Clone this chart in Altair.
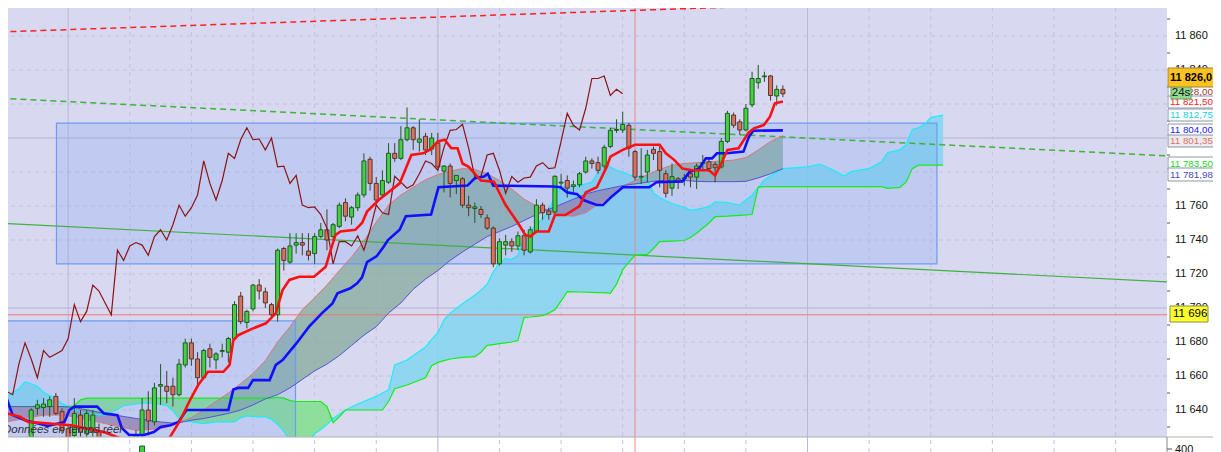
import altair as alt
import numpy as np
import pandas as pd

# ---------------- values ----------------
CANDLE_T = list(range(4, 127))
OPEN = [11624, 11641, 11641.5, 11642, 11648, 11639, 11629, 11625, 11637, 11626,
        11627, 11628, 11615, 11608, 11612, 11606, 11611, 11619, 11625, 11640,
        11633, 11654, 11654, 11654, 11649, 11666.5, 11679.5, 11670, 11659, 11676,
        11669.5, 11674.5, 11674, 11682, 11707, 11691.5, 11699.5, 11713.5, 11709.5, 11702,
        11696, 11735, 11727, 11737, 11738.5, 11733.5, 11732, 11742, 11746, 11742,
        11748, 11762, 11753.5, 11759, 11766.5, 11787.5, 11773.3, 11766.5, 11774, 11791,
        11788, 11799, 11806, 11797.5, 11801, 11793.5, 11797, 11780.5, 11783.5, 11775,
        11776, 11760.5, 11758.5, 11758, 11753, 11747, 11726, 11737, 11739, 11736.5,
        11742.5, 11733, 11745, 11760.5, 11757, 11756.5, 11773.5, 11775, 11771.5, 11772.5,
        11780, 11786.5, 11785.5, 11783.5, 11795, 11804.5, 11804.7, 11807.5, 11792, 11777,
        11780, 11793.3, 11792, 11779, 11770.5, 11776, 11776, 11779, 11777, 11785,
        11786, 11784.5, 11783, 11798, 11813.5, 11809.5, 11804.7, 11819.5, 11832.5, 11836,
        11836.5, 11824.7, 11828.6]
HIGH = [11641, 11646, 11647, 11648, 11650, 11641, 11631, 11647, 11640, 11640,
        11640, 11632, 11620, 11616, 11618, 11614, 11622, 11628, 11647, 11651,
        11656, 11667, 11663, 11659, 11670, 11682, 11682, 11674, 11676, 11679,
        11674, 11679, 11683, 11704, 11709.5, 11699, 11714, 11717, 11712, 11703,
        11735, 11736, 11744, 11744, 11744, 11744, 11744, 11750, 11758, 11750,
        11762, 11764.5, 11760, 11768, 11791, 11789, 11777, 11781, 11797, 11797,
        11807, 11818, 11807, 11811, 11803, 11803, 11803, 11784, 11785, 11778,
        11777, 11766, 11762, 11760, 11755, 11748, 11741, 11743, 11741, 11745,
        11746, 11748, 11764, 11762, 11759, 11778, 11779, 11778, 11775, 11780,
        11789, 11788, 11789, 11796, 11806, 11811, 11815.5, 11809, 11793, 11794,
        11793, 11795, 11795, 11781, 11785, 11777, 11779, 11781, 11785, 11790,
        11788, 11786, 11800, 11816, 11815, 11811, 11820, 11839, 11843, 11839,
        11837, 11831, 11831]
LOW = [11622, 11637, 11636, 11636, 11637, 11626, 11622, 11623, 11624, 11622,
       11622, 11612, 11604, 11601, 11603, 11600, 11607, 11615, 11623, 11625,
       11631, 11643, 11644, 11642, 11648, 11665, 11666, 11655, 11658, 11665,
       11664, 11671, 11668, 11681, 11690.5, 11688, 11698, 11705, 11700, 11695,
       11692, 11722, 11726, 11732, 11731, 11728, 11726, 11741, 11734, 11740,
       11747, 11751, 11749, 11757, 11765, 11769, 11760, 11765, 11773, 11786,
       11787, 11798, 11793, 11792, 11790, 11790, 11782, 11768, 11765, 11767,
       11759, 11754, 11750, 11753, 11746, 11724, 11725, 11731, 11733, 11734,
       11731, 11732, 11744, 11752, 11752, 11755, 11771, 11765, 11768, 11771,
       11779, 11782, 11779, 11782, 11794, 11803, 11803, 11789, 11775, 11773,
       11774, 11787, 11771, 11765, 11766, 11770, 11772, 11771, 11770, 11781,
       11780, 11774, 11782, 11797, 11806, 11802, 11804, 11818, 11829, 11833,
       11822, 11819, 11824]
CLOSE = [11640, 11643, 11643.5, 11646, 11638, 11628, 11624, 11638, 11627, 11638,
         11637, 11615, 11608, 11612, 11606, 11611, 11619, 11625, 11640, 11633.5,
         11653, 11655, 11651, 11649, 11667, 11679.5, 11670, 11659, 11675, 11671,
         11673, 11675, 11682, 11702, 11692, 11698, 11713.5, 11710, 11703, 11696,
         11734, 11728, 11736.5, 11738.5, 11737, 11731, 11742, 11746, 11740, 11749,
         11760.5, 11754, 11759, 11766.5, 11786.5, 11773.3, 11763.5, 11775, 11791, 11788,
         11799, 11806, 11799, 11799.4, 11793, 11800, 11783, 11783.5, 11773.3, 11778,
         11760.5, 11759, 11759.5, 11755, 11747, 11726, 11739, 11739, 11736.5, 11742.5,
         11734, 11746, 11760.5, 11756, 11755, 11777.5, 11774, 11770.5, 11772.5, 11779,
         11786.5, 11785, 11781, 11794.5, 11804.5, 11805, 11808, 11794, 11777, 11777.5,
         11790, 11791, 11781, 11767.5, 11777.3, 11774, 11776.5, 11777, 11783.5, 11785.5,
         11782, 11782.5, 11798, 11814.5, 11807.5, 11804.7, 11817.5, 11835, 11835, 11836.5,
         11825, 11828.6, 11826]
CHIKOU_SHIFT = 26

TENKAN_T = [0, 2.2, 3.5, 10.5, 12.6, 15.8, 18, 20, 26, 28.2, 29.8, 31.1, 32.7, 35.2, 36.2, 36.8,
            37.6, 40, 42.1, 43.7, 44.8, 45.9, 47.5, 49.9, 51.8, 52.6, 53.4, 54.2, 56.6, 57.7,
            58.5, 60.4, 63.8, 65.7, 67.6, 68.7, 70, 71.1, 72.2, 73.2, 74, 75, 77, 79.1, 79.9,
            81, 82, 83, 84.2, 85, 86, 88, 89, 90.7, 93, 94, 95.8, 97.4, 98, 100, 102, 106, 107,
            108.4, 109.7, 111.3, 114, 115, 116, 117, 118.8, 120.4, 121.3, 122.9, 123.9, 124.7, 126]
TENKAN_V = [11638, 11636, 11633, 11631, 11629.4, 11627, 11624, 11621, 11621, 11634, 11646, 11654.7,
            11662.5, 11662.5, 11666.5, 11681, 11684, 11688, 11691, 11697, 11710.6, 11716.5, 11718.4,
            11718.4, 11724.3, 11734, 11743, 11745, 11746, 11750, 11756.7, 11763.5, 11773.3, 11790,
            11791, 11793, 11798, 11799, 11794, 11794, 11785, 11783, 11775, 11774.3, 11768.4, 11760.6,
            11755.3, 11750, 11743, 11742, 11745, 11745, 11754.7, 11754.7, 11760, 11768, 11771, 11783,
            11789, 11793, 11796, 11796, 11791, 11787, 11782, 11781, 11781, 11778, 11785, 11793, 11794,
            11803, 11805.7, 11807.6, 11812.5, 11820.4, 11821.5]

KIJUN_T = [0, 1, 3, 6.7, 9.4, 10.2, 11, 14.7, 15.8, 18, 18.7, 19.9, 22.3, 23.9, 25, 26.6, 27.9,
           29.2, 36, 36.8, 37.6, 39.2, 40, 42.7, 43.7, 44.8, 47, 49.1, 51.2, 52.9, 53.7, 55.8, 56.9,
           57.7, 58.5, 60.1, 61.2, 61.9, 63.8, 64.8, 68.9, 70.1, 74.8, 76, 77.5, 78.1, 79, 88.8,
           89.9, 91, 92.6, 93.6, 95.8, 96.8, 98.2, 99.5, 100, 104.3, 105.5, 109.7, 110.8, 112.4,
           113.5, 114.5, 115.3, 116.9, 119.6, 120.5, 121.2, 126]
KIJUN_V = [11647, 11637, 11634, 11630.6, 11633, 11640, 11642, 11642, 11638, 11637, 11629.4, 11625.3,
           11625.3, 11627, 11630, 11631, 11633, 11640, 11640, 11652, 11653, 11653, 11657.6, 11657.6,
           11666.5, 11669.4, 11679, 11689, 11697, 11702.7, 11708.6, 11711.6, 11714.5, 11718, 11727,
           11730.6, 11736, 11740, 11746, 11754, 11755, 11771, 11772, 11776.3, 11777.3, 11779, 11772,
           11771.5, 11771, 11768, 11767, 11763.5, 11760.6, 11760.6, 11765.5, 11769.4, 11771, 11771,
           11774, 11774.5, 11780, 11782, 11788, 11788, 11791, 11791, 11792, 11800.8, 11804.3, 11804.5]

C1_T = [0, 3, 6, 9, 11, 16, 21, 25, 27, 28, 30, 32, 34, 36, 38, 40, 42, 44, 46, 48, 50, 52, 54,
        56, 58, 60, 62, 64, 66, 68, 70, 72, 74, 76, 78, 80, 82, 84, 86, 88, 90, 92, 94, 96, 98,
        100, 102, 104, 106, 108, 110, 112, 114, 116, 118, 120, 122, 124, 126]
C1_A = [11633, 11635, 11637, 11637, 11636, 11632, 11628, 11629, 11631, 11633,
        11635.5, 11640, 11645, 11650, 11655.5, 11661.5, 11669, 11680, 11689, 11699,
        11706, 11713.5, 11722, 11730, 11739.5, 11750.5, 11760.5, 11766.5, 11771, 11775.5,
        11778.5, 11780.5, 11782, 11781.5, 11779, 11775, 11770, 11764, 11760, 11756.5,
        11754.5, 11754, 11756, 11761, 11765, 11771, 11775, 11778.5, 11781.5, 11784,
        11785, 11785.5, 11786, 11786.5, 11787, 11788.5, 11793, 11798, 11801.35]
C1_B = [11642, 11642, 11642, 11642, 11641.5, 11638, 11635, 11633, 11632.3, 11632.5,
        11634, 11635, 11636.5, 11638, 11640, 11643, 11646.5, 11649, 11653, 11658,
        11663, 11667, 11672, 11678, 11684, 11689, 11697, 11703, 11711, 11717,
        11722, 11728, 11733, 11737.5, 11742, 11745, 11748, 11751.5, 11755, 11758,
        11761, 11764, 11767, 11769, 11770.5, 11772, 11773, 11774, 11775, 11775,
        11775, 11774.5, 11774.3, 11774.3, 11774.3, 11774.5, 11776.5, 11779, 11781.98]

C2_T = [0, 2, 3, 5, 6, 7, 9, 10, 11, 12, 13, 16, 17, 19, 22, 24, 26, 27, 28, 29, 30, 32, 34, 37,
        38, 39, 41, 42, 43, 44, 45, 46, 47, 49, 50, 51, 52, 53, 54, 55, 57, 60, 61, 62, 63, 65,
        68, 69, 70, 71, 72, 74, 76, 77, 78, 79, 80, 81, 82, 83, 84, 85, 87, 88, 89, 90, 91, 93,
        95, 96, 97, 98, 99, 100, 101, 102, 104, 105, 106, 108, 110, 111, 112, 114, 115, 117, 119,
        121, 122, 123, 126, 130, 132, 134, 136, 137, 140, 142, 143, 145, 146, 147, 148, 149, 150, 152]
C2_CYAN = [11648, 11652.5, 11656.6, 11654, 11650.5, 11648.5, 11644, 11642, 11640.3, 11639,
           11638, 11637, 11638.5, 11642.5, 11644, 11644, 11642.5, 11639.5, 11635, 11633.7,
           11633, 11632, 11633, 11633, 11635.5, 11636.5, 11636, 11636, 11634.5, 11631.5,
           11627.5, 11622, 11618, 11622, 11626, 11628.5, 11631.5, 11635, 11637.5, 11640,
           11643.5, 11648, 11650, 11651.8, 11666.5, 11669.4, 11677, 11681.5, 11685.5, 11693,
           11697, 11702.5, 11707.5, 11710.5, 11714, 11721.5, 11726.5, 11729, 11728.5, 11731,
           11742, 11745.5, 11752.5, 11757.5, 11766, 11771, 11771.4, 11772, 11774, 11780,
           11785.5, 11783, 11781, 11780, 11778.5, 11777.3, 11775.5, 11767.5, 11765, 11761.5,
           11759.3, 11757.6, 11758, 11759.6, 11762.5, 11762, 11760.6, 11766.5, 11771, 11775.3,
           11782, 11783, 11784.7, 11781.5, 11777.6, 11780.2, 11782, 11786, 11791.5, 11793,
           11796, 11805, 11806, 11808, 11812, 11813.5]
C2_GREEN = ([11642] * 8 + [11642.5, 11646] + [11647] * 19 +
            [11647.5, 11647, 11645.5, 11645, 11645, 11645, 11645, 11642, 11632.5, 11636,
             11640, 11640, 11640, 11640, 11645, 11652.5, 11654.7, 11659, 11666, 11668,
             11669, 11670, 11671, 11671.4, 11674, 11678, 11678.5, 11679, 11679.5, 11680,
             11681, 11694.5, 11694.7, 11695.5, 11697, 11699, 11704, 11709.6, 11709.4, 11709.2,
             11709, 11709, 11708.6, 11714, 11722.4, 11727, 11731, 11731.5, 11735, 11739,
             11739.3, 11739.7, 11741.5, 11744, 11750, 11753.7, 11754, 11754.5, 11755, 11771,
             11771.4] + [11771.4] * 8 + [11770.4, 11771, 11774, 11782, 11784, 11784, 11784, 11784])

TREND_T = [-1, 190]
RED_DASH_V = [11862.4, 11885.9]
GREEN_DASH_V = [11823.4, 11789.2]
GREEN_LINE_V = [11749.9, 11715.1]

RECT_T0 = [8.1, -0.3]
RECT_T1 = [151.0, 46.9]
RECT_LO = [11725.9, 11620.0]
RECT_HI = [11808.8, 11692.4]

LEVEL_696 = [11696]
CURSOR_T = [102]
VOLUME_T = [22]
GRID_T = list(range(10, 190, 10))
SOLID_T = [10, 70, 130]
Y_TICKS = list(range(11640, 11861, 20))
Y_LABELS = [11640, 11660, 11680, 11700, 11720, 11740, 11760, 11840, 11860]  # the others sit under price tags
SOLID_Y = [11700, 11800]
MINOR_Y = list(range(11630, 11871, 20))

TAG_TEXT = ["11 828,00", "11 821,50", "11 812,75", "11 804,00", "11 801,35", "11 783,50", "11 781,98"]
TAG_FG = ["#a03838", "#ff1a1a", "#14d2e4", "#1a1aff", "#e07070", "#1ed81e", "#4646c8"]
TAG_BG = ["#ffffff", "#ffffff", "#ffffff", "#ffffff", "#ececec", "#ffffff", "#ffffff"]
# layout of the price tags (pixel rows inside the chart)
TAG_Y0 = [78, 88, 101, 116, 127, 149, 160]
TAG_Y1 = [89, 100, 113, 128, 139, 162, 173]
TAG_YT = [84, 94, 107, 122, 133, 156, 167]

# ---------------- layout ----------------
W, H = 1159, 429
T_LEFT, T_RIGHT = 1.046, 187.53
Y_BOT, Y_TOP = 11624.12, 11876.47
FONT = "Liberation Sans"

XS = alt.Scale(domain=[T_LEFT, T_RIGHT], nice=False, zero=False)
YS = alt.Scale(domain=[Y_BOT, Y_TOP], nice=False, zero=False)


def X(f="t"):
    return alt.X(f"{f}:Q", scale=XS, axis=None)


def Y(f="v"):
    return alt.Y(f"{f}:Q", scale=YS, axis=None)


# ---------------- tables ----------------
candles = pd.DataFrame({"t": CANDLE_T, "o": OPEN, "h": HIGH, "l": LOW, "c": CLOSE})
candles["dir"] = np.where(candles["c"] >= candles["o"], "up", "down")

chik = pd.DataFrame({"t": [t - CHIKOU_SHIFT for t in CANDLE_T], "v": CLOSE})
chik = chik[chik["t"] >= 0]

tenkan = pd.DataFrame({"t": TENKAN_T, "v": TENKAN_V})
kijun = pd.DataFrame({"t": KIJUN_T, "v": KIJUN_V})

c1 = pd.DataFrame({"t": C1_T, "a": C1_A, "b": C1_B})
c1["top"] = np.maximum(c1["a"], c1["b"])
c2 = pd.DataFrame({"t": C2_T, "cy": C2_CYAN, "gr": C2_GREEN})
c2["top"] = np.maximum(c2["cy"], c2["gr"])

trend = pd.DataFrame({"t": TREND_T, "red": RED_DASH_V, "gd": GREEN_DASH_V, "gl": GREEN_LINE_V})
rects = pd.DataFrame({"t0": RECT_T0, "t1": RECT_T1, "lo": RECT_LO, "hi": RECT_HI})

vgrid = pd.DataFrame({"t": [t for t in GRID_T if t not in SOLID_T]})
vsolid = pd.DataFrame({"t": SOLID_T})
hgrid = pd.DataFrame({"v": [v for v in Y_TICKS if v not in SOLID_Y]})
hsolid = pd.DataFrame({"v": SOLID_Y})
minor = pd.DataFrame({"v": MINOR_Y})
ticklab = pd.DataFrame({"v": Y_LABELS, "label": [f"{v:,}".replace(",", " ") for v in Y_LABELS]})

tags = pd.DataFrame({"label": TAG_TEXT, "fg": TAG_FG, "bg": TAG_BG,
                     "y0": TAG_Y0, "y1": TAG_Y1, "yt": TAG_YT})
vol = pd.DataFrame({"t0": [t - 0.4 for t in VOLUME_T], "t1": [t + 0.4 for t in VOLUME_T]})
one = pd.DataFrame({"k": [0]})

layers = []

# grid + price axis (ticks and domain line)
layers.append(alt.Chart(hgrid).mark_rule(color="#c2c2de", strokeDash=[4, 4], strokeWidth=1).encode(
    y=alt.Y("v:Q", scale=YS, axis=alt.Axis(
        orient="right", values=Y_TICKS, title=None, grid=False, labels=False,
        domainColor="#8a8a8a", tickColor="#555555", tickSize=5))))
layers.append(alt.Chart(hsolid).mark_rule(color="#b4b4d2", strokeWidth=1).encode(y=Y()))
layers.append(alt.Chart(vgrid).mark_rule(color="#c2c2de", strokeDash=[4, 4], strokeWidth=1).encode(
    x=X(), y=alt.value(0), y2=alt.value(444)))
layers.append(alt.Chart(vsolid).mark_rule(color="#b8b8d6", strokeWidth=1).encode(
    x=X(), y=alt.value(0), y2=alt.value(444)))

# second cloud (cyan / green)
layers.append(alt.Chart(c2).mark_area(color="#84d6f0", opacity=0.85, clip=True).encode(
    x=X(), y=Y("top"), y2=alt.Y2("gr:Q")))
layers.append(alt.Chart(c2).mark_area(color="#86e092", opacity=0.9, clip=True).encode(
    x=X(), y=Y("top"), y2=alt.Y2("cy:Q")))

# first cloud (salmon / thin blue)
layers.append(alt.Chart(c1).mark_area(color="#86ac9e", opacity=0.78, clip=True).encode(
    x=X(), y=Y("top"), y2=alt.Y2("b:Q")))
layers.append(alt.Chart(c1).mark_area(color="#9a7aa2", opacity=0.75, clip=True).encode(
    x=X(), y=Y("top"), y2=alt.Y2("a:Q")))

# rectangles
layers.append(alt.Chart(rects).mark_rect(fill="#6a96ee", fillOpacity=0.2, stroke="#6d9bf2",
                                         strokeWidth=1.2, clip=True).encode(
    x=X("t0"), x2=alt.X2("t1:Q"), y=Y("lo"), y2=alt.Y2("hi:Q")))

# horizontal level and cursor
layers.append(alt.Chart(pd.DataFrame({"v": LEVEL_696})).mark_rule(color="#f07878", strokeWidth=1).encode(y=Y()))
layers.append(alt.Chart(pd.DataFrame({"t": CURSOR_T})).mark_rule(color="#f08a8a", strokeWidth=1).encode(
    x=X(), y=alt.value(0), y2=alt.value(444)))

# trend lines
layers.append(alt.Chart(trend).mark_line(color="#40b040", strokeWidth=1.2, clip=True).encode(x=X(), y=Y("gl")))
layers.append(alt.Chart(trend).mark_line(color="#ff2020", strokeWidth=1.5, strokeDash=[6, 4], clip=True).encode(x=X(), y=Y("red")))
layers.append(alt.Chart(trend).mark_line(color="#3cb43c", strokeWidth=1.5, strokeDash=[6, 4], clip=True).encode(x=X(), y=Y("gd")))

# cloud borders
layers.append(alt.Chart(c2).mark_line(color="#18eef8", strokeWidth=1.2, clip=True).encode(x=X(), y=Y("cy")))
layers.append(alt.Chart(c2).mark_line(color="#14ee14", strokeWidth=1.2, clip=True).encode(x=X(), y=Y("gr")))
layers.append(alt.Chart(c1).mark_line(color="#e07474", strokeWidth=1, clip=True).encode(x=X(), y=Y("a")))
layers.append(alt.Chart(c1).mark_line(color="#5454d4", strokeWidth=1, clip=True).encode(x=X(), y=Y("b")))

# candles
dir_scale_fill = alt.Scale(domain=["up", "down"], range=["#44d044", "#e0705e"])
dir_scale_stroke = alt.Scale(domain=["up", "down"], range=["#1f5a1f", "#4a3a2a"])
layers.append(alt.Chart(candles).mark_rule(strokeWidth=1, clip=True).encode(
    x=X(), y=Y("l"), y2=alt.Y2("h:Q"),
    color=alt.Color("dir:N", scale=dir_scale_stroke, legend=None)))
layers.append(alt.Chart(candles).mark_bar(size=4, strokeWidth=1, clip=True).encode(
    x=X(), y=Y("o"), y2=alt.Y2("c:Q"),
    fill=alt.Fill("dir:N", scale=dir_scale_fill, legend=None),
    stroke=alt.Stroke("dir:N", scale=dir_scale_stroke, legend=None)))

# chikou, tenkan, kijun
layers.append(alt.Chart(chik).mark_line(color="#8b1414", strokeWidth=1.2, clip=True).encode(x=X(), y=Y()))
layers.append(alt.Chart(kijun).mark_line(color="#1010ff", strokeWidth=2.6, clip=True).encode(x=X(), y=Y()))
layers.append(alt.Chart(tenkan).mark_line(color="#ff1010", strokeWidth=2.6, clip=True).encode(x=X(), y=Y()))

# watermark text
layers.append(alt.Chart(one).mark_text(text="Données en temps réel", align="left", baseline="alphabetic",
                                       font=FONT, fontSize=11.5, fontStyle="italic", color="#303038").encode(
    x=alt.value(-5), y=alt.value(425)))

# lower pane
layers.append(alt.Chart(one).mark_rule(color="#b0b0b8", strokeWidth=1).encode(
    x=alt.value(-8), x2=alt.value(1213), y=alt.value(429)))
layers.append(alt.Chart(one).mark_rule(color="#8a8a8a", strokeWidth=1).encode(
    x=alt.value(1159), y=alt.value(429), y2=alt.value(452)))
layers.append(alt.Chart(one).mark_rule(color="#555555", strokeWidth=1).encode(
    x=alt.value(1159), x2=alt.value(1164), y=alt.value(441)))
layers.append(alt.Chart(one).mark_text(text="400", align="left", baseline="middle", font=FONT,
                                       fontSize=11, color="#111111").encode(
    x=alt.value(1167), y=alt.value(442)))
layers.append(alt.Chart(vol).mark_rect(fill="#44d044", stroke="#1f5a1f", strokeWidth=1).encode(
    x=X("t0"), x2=alt.X2("t1:Q"), y=alt.value(438), y2=alt.value(446)))

# minor ticks and labels of the price axis
layers.append(alt.Chart(minor).mark_rule(color="#555555", strokeWidth=1).encode(
    y=Y(), x=alt.value(1159), x2=alt.value(1162)))
layers.append(alt.Chart(ticklab).mark_text(align="left", baseline="middle", font=FONT, fontSize=11,
                                           color="#111111").encode(
    y=Y(), x=alt.value(1167), text="label:N"))

# price tags
layers.append(alt.Chart(tags).mark_rect(stroke="#8a96a6", strokeWidth=1).encode(
    x=alt.value(1160), x2=alt.value(1240),
    y=alt.Y("y0:Q", scale=None, axis=None), y2="y1:Q",
    fill=alt.Fill("bg:N", scale=None)))
layers.append(alt.Chart(tags).mark_text(align="left", baseline="middle", font=FONT, fontSize=9.8).encode(
    x=alt.value(1162), y=alt.Y("yt:Q", scale=None, axis=None), text="label:N",
    color=alt.Color("fg:N", scale=None)))

# "24s" timer box
layers.append(alt.Chart(one).mark_rect(fill="#8edc8e", stroke="#6a9a6a", strokeWidth=1).encode(
    x=alt.value(1163), x2=alt.value(1183), y=alt.value(78), y2=alt.value(91)))
layers.append(alt.Chart(one).mark_text(text="24s", align="center", baseline="middle", font=FONT,
                                       fontSize=11.5, color="#111111").encode(
    x=alt.value(1173), y=alt.value(85)))

# last price tag
layers.append(alt.Chart(one).mark_rect(fill="#ffc21f", stroke="#9a8040", strokeWidth=1).encode(
    x=alt.value(1160), x2=alt.value(1240), y=alt.value(60), y2=alt.value(79)))
layers.append(alt.Chart(one).mark_text(text="11 826,0", align="left", baseline="middle", font=FONT,
                                       fontSize=11, fontWeight="bold", color="#000000").encode(
    x=alt.value(1162), y=alt.value(70)))

# horizontal level tag
layers.append(alt.Chart(one).mark_rect(fill="#ffff30", stroke="#8a8a40", strokeWidth=1).encode(
    x=alt.value(1162), x2=alt.value(1200), y=alt.value(298), y2=alt.value(314)))
layers.append(alt.Chart(one).mark_text(text="11 696", align="left", baseline="middle", font=FONT,
                                       fontSize=11.5, color="#000000").encode(
    x=alt.value(1165), y=alt.value(306)))

chart = alt.layer(*layers).properties(
    width=W, height=H,
    padding={"left": 0, "top": 0, "right": 46, "bottom": 15},
    autosize=alt.AutoSizeParams(type="none"),
    background="white",
).configure_view(fill="#d8d8f0", stroke=None)

chart.save("out.html", embed_options={"renderer": "svg", "actions": False})
